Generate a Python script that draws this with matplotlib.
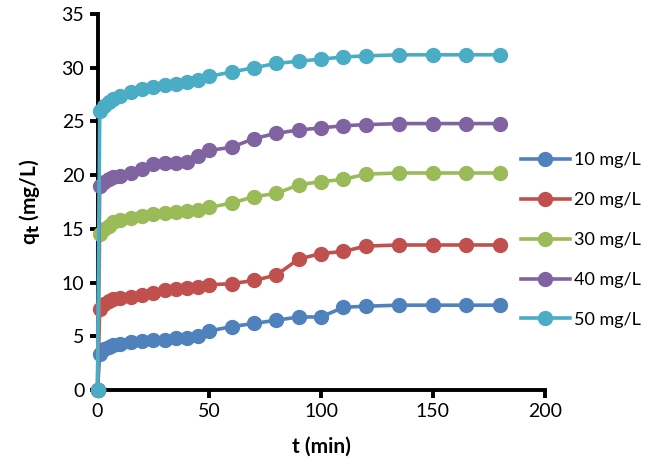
import matplotlib
matplotlib.use("Agg")
import matplotlib.pyplot as plt

# contact time (min)
t = [0, 1, 3, 5, 7, 10, 15, 20, 25, 30, 35, 40, 45, 50, 60, 70, 80, 90, 100,
     110, 120, 135, 150, 165, 180]

q10 = [0, 3.4, 3.8, 4.0, 4.2, 4.3, 4.5, 4.6, 4.7, 4.7, 4.8, 4.8, 5.0, 5.5,
       5.9, 6.2, 6.5, 6.8, 6.8, 7.7, 7.8, 7.9, 7.9, 7.9, 7.9]
q20 = [0, 7.5, 8.0, 8.3, 8.5, 8.6, 8.7, 8.8, 9.0, 9.3, 9.4, 9.5, 9.6, 9.8,
       9.9, 10.2, 10.7, 12.2, 12.7, 12.9, 13.4, 13.5, 13.5, 13.5, 13.5]
q30 = [0, 14.5, 15.0, 15.3, 15.6, 15.8, 16.0, 16.2, 16.4, 16.5, 16.6, 16.7,
       16.8, 17.0, 17.4, 18.0, 18.3, 19.1, 19.4, 19.6, 20.1, 20.2, 20.2, 20.2, 20.2]
q40 = [0, 19.0, 19.4, 19.6, 19.8, 19.9, 20.2, 20.6, 21.0, 21.1, 21.1, 21.2,
       21.8, 22.3, 22.6, 23.4, 23.9, 24.2, 24.4, 24.6, 24.7, 24.8, 24.8, 24.8, 24.8]
q50 = [0, 26.0, 26.4, 26.8, 27.1, 27.4, 27.7, 28.0, 28.2, 28.4, 28.5, 28.7,
       28.9, 29.2, 29.6, 30.0, 30.4, 30.6, 30.8, 31.0, 31.1, 31.2, 31.2, 31.2, 31.2]

series = [
    ("10 mg/L", q10, "#4F81BD"),
    ("20 mg/L", q20, "#C0504D"),
    ("30 mg/L", q30, "#9BBB59"),
    ("40 mg/L", q40, "#8064A2"),
    ("50 mg/L", q50, "#4BACC6"),
]

plt.rcParams["font.family"] = ["Lato", "DejaVu Sans"]

fig = plt.figure(figsize=(6.5, 4.66), dpi=100)
ax = fig.add_axes([0.15, 0.163, 0.688, 0.807])

for label, q, color in series:
    ax.plot(t, q, color=color, linewidth=2.6, marker="o", markersize=10,
            label=label, clip_on=False, zorder=3)

ax.set_xlim(0, 200)
ax.set_ylim(0, 35)
ax.set_xticks([0, 50, 100, 150, 200])
ax.set_yticks(range(0, 36, 5))

for side in ["top", "right"]:
    ax.spines[side].set_visible(False)
for side in ["left", "bottom"]:
    ax.spines[side].set_linewidth(2.8)

ax.tick_params(axis="both", which="major", labelsize=14, width=2.8, length=6,
               direction="out")

ax.set_xlabel("t (min)", fontsize=15, fontweight="bold", labelpad=12)
ax.set_ylabel("q$_\\mathbf{t}$ (mg/L)", fontsize=15, fontweight="bold", labelpad=14)

ax.legend(loc="center left", bbox_to_anchor=(0.785, 0.485),
          bbox_transform=fig.transFigure, frameon=False, fontsize=13,
          handlelength=2.7, handletextpad=0.25, labelspacing=1.32,
          borderaxespad=0.2)

fig.savefig("out.png", dpi=100)
